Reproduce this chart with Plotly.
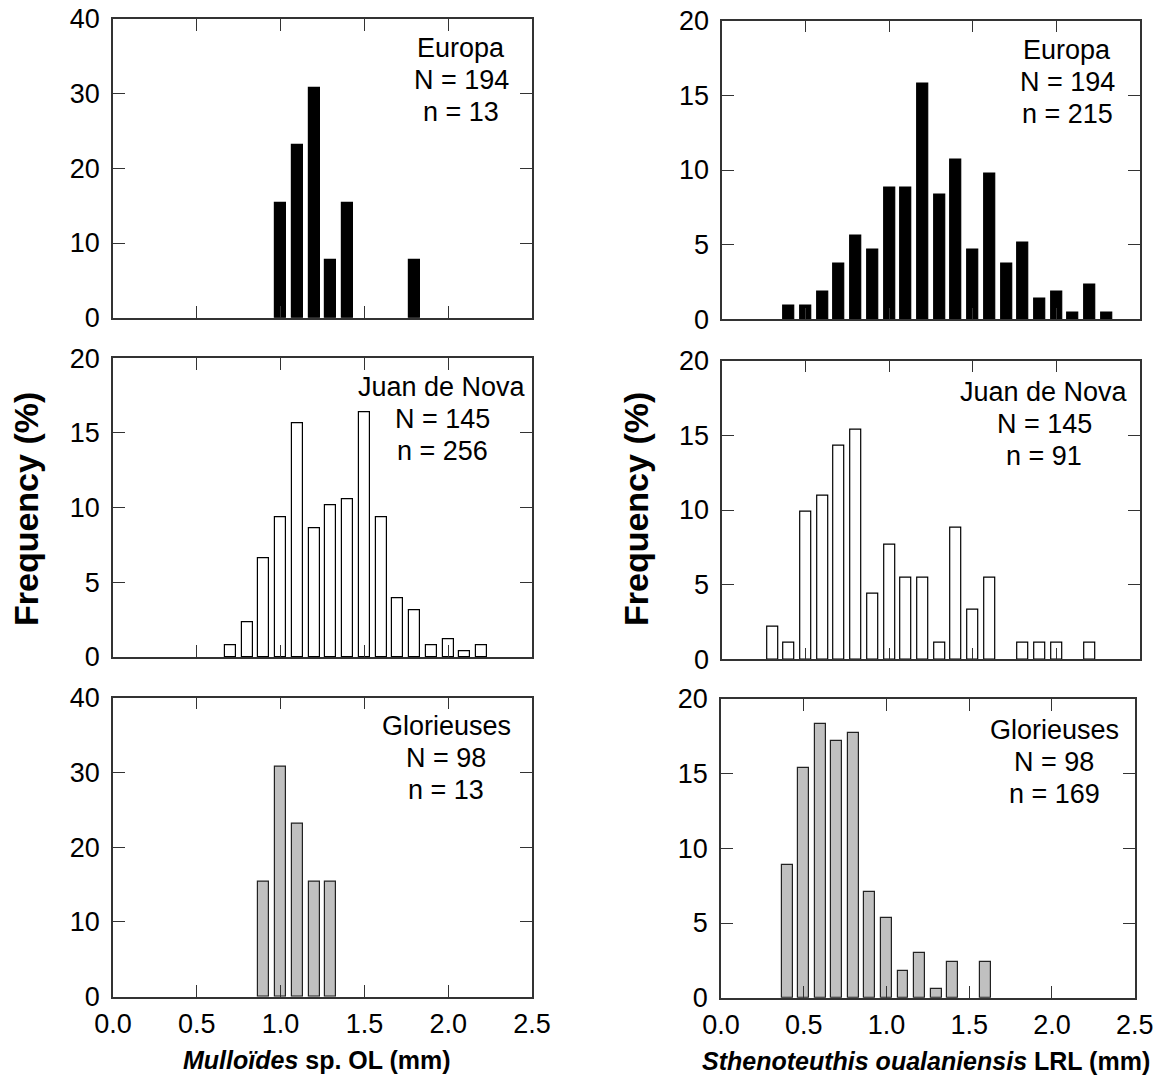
import plotly.graph_objects as go

# the page puts an 8 px margin round the figure; keep the whole page at 1168 x 1084
OFF = 8
W, H = 1168 - 2 * OFF, 1084 - 2 * OFF
FONT = "Liberation Sans, Arial, sans-serif"


def px_x(x):
    return (x - OFF) / W


def px_y(y):
    return 1 - (y - OFF) / H


# Mulloides sp. otolith length (mm), frequency (%)
mull_europa_x = [1.0, 1.1, 1.2, 1.3, 1.4, 1.8]
mull_europa_y = [15.38, 23.08, 30.77, 7.69, 15.38, 7.69]

mull_juan_x = [0.7, 0.8, 0.9, 1.0, 1.1, 1.2, 1.3, 1.4, 1.5, 1.6, 1.7, 1.8, 1.9, 2.0, 2.1, 2.2]
mull_juan_y = [0.78, 2.34, 6.64, 9.38, 15.63, 8.59, 10.16, 10.55, 16.41, 9.38, 3.91, 3.13, 0.78, 1.17, 0.39, 0.78]

mull_glor_x = [0.9, 1.0, 1.1, 1.2, 1.3]
mull_glor_y = [15.38, 30.77, 23.08, 15.38, 15.38]

# Sthenoteuthis oualaniensis lower rostral length (mm), frequency (%)
sthe_europa_x = [0.4, 0.5, 0.6, 0.7, 0.8, 0.9, 1.0, 1.1, 1.2, 1.3, 1.4, 1.5, 1.6, 1.7, 1.8, 1.9, 2.0, 2.1, 2.2, 2.3]
sthe_europa_y = [0.93, 0.93, 1.86, 3.72, 5.58, 4.65, 8.84, 8.84, 15.81, 8.37, 10.70, 4.65, 9.77, 3.72, 5.12, 1.40, 1.86, 0.47, 2.33, 0.47]

sthe_juan_x = [0.3, 0.4, 0.5, 0.6, 0.7, 0.8, 0.9, 1.0, 1.1, 1.2, 1.3, 1.4, 1.5, 1.6, 1.8, 1.9, 2.0, 2.2]
sthe_juan_y = [2.20, 1.10, 9.89, 10.99, 14.29, 15.38, 4.40, 7.69, 5.49, 5.49, 1.10, 8.79, 3.30, 5.49, 1.10, 1.10, 1.10, 1.10]

sthe_glor_x = [0.4, 0.5, 0.6, 0.7, 0.8, 0.9, 1.0, 1.1, 1.2, 1.3, 1.4, 1.6]
sthe_glor_y = [8.88, 15.38, 18.34, 17.16, 17.75, 7.10, 5.33, 1.78, 2.96, 0.59, 2.37, 2.37]

site_labels = [
    ["Europa", "N = 194", "n = 13"], ["Europa", "N = 194", "n = 215"],
    ["Juan de Nova", "N = 145", "n = 256"], ["Juan de Nova", "N = 145", "n = 91"],
    ["Glorieuses", "N = 98", "n = 13"], ["Glorieuses", "N = 98", "n = 169"],
]

# panel boxes in window pixels: x0, x1, y_top, y_bottom
panels = [
    (113, 532, 19, 317.7),
    (722.3, 1140, 20.7, 319.3),
    (113, 532, 358.3, 657),
    (722.3, 1140, 360.7, 659.3),
    (113, 532, 697.7, 996.7),
    (721, 1134.7, 699, 997.7),
]
# label centre x, y of first line
label_pos = [(461, 48), (1067, 50), (442, 387), (1044, 392), (446, 726), (1054, 730)]
ymax = [40, 20, 20, 20, 40, 20]
ydtick = [10, 5, 5, 5, 10, 5]

series = [
    (mull_europa_x, mull_europa_y, "black", "black"),
    (sthe_europa_x, sthe_europa_y, "black", "black"),
    (mull_juan_x, mull_juan_y, "white", "black"),
    (sthe_juan_x, sthe_juan_y, "white", "black"),
    (mull_glor_x, mull_glor_y, "#c0c0c0", "#222222"),
    (sthe_glor_x, sthe_glor_y, "#c0c0c0", "#222222"),
]

fig = go.Figure()
layout = {}
for i, ((xs, ys, fill, edge), (x0, x1, yt, yb)) in enumerate(zip(series, panels)):
    n = i + 1
    suffix = "" if n == 1 else str(n)
    fig.add_trace(go.Bar(
        x=xs, y=ys, width=0.066,
        marker=dict(color=fill, line=dict(color=edge, width=1.2)),
        xaxis="x" + suffix, yaxis="y" + suffix, showlegend=False,
    ))
    axis_common = dict(
        showline=True, linecolor="#333333", linewidth=1.5, mirror="ticks",
        ticks="inside", ticklen=12, tickwidth=1.3, tickcolor="#333333",
        showgrid=False, zeroline=False, automargin=False, ticklabeloverflow="allow",
        tickfont=dict(family=FONT, size=27, color="black"),
    )
    layout["xaxis" + suffix] = dict(
        axis_common, domain=[px_x(x0), px_x(x1)], range=[0, 2.5],
        tick0=0, dtick=0.5, tickformat=".1f", anchor="y" + suffix,
        showticklabels=(i >= 4), ticklabelstandoff=2,
    )
    layout["yaxis" + suffix] = dict(
        axis_common, domain=[px_y(yb), px_y(yt)], range=[0, ymax[i]],
        tick0=0, dtick=ydtick[i], anchor="x" + suffix, ticklabelstandoff=6,
    )

annotations = []
for lines, (ax, ay) in zip(site_labels, label_pos):
    for k, line in enumerate(lines):
        annotations.append(dict(
            text=line, x=px_x(ax), y=px_y(ay + 32 * k), xref="paper", yref="paper",
            xanchor="center", yanchor="middle", showarrow=False,
            font=dict(family=FONT, size=27, color="black"),
        ))

for tx in (26, 636):
    annotations.append(dict(
        text="<b>Frequency (%)</b>", x=px_x(tx), y=px_y(509), xref="paper", yref="paper",
        xanchor="center", yanchor="middle", showarrow=False, textangle=-90,
        font=dict(family=FONT, size=34, color="black"),
    ))

annotations.append(dict(
    text="<b><i>Mulloïdes</i> sp. OL (mm)</b>", x=px_x(317), y=px_y(1060),
    xref="paper", yref="paper", xanchor="center", yanchor="middle", showarrow=False,
    font=dict(family=FONT, size=25, color="black"),
))
annotations.append(dict(
    text="<b><i>Sthenoteuthis oualaniensis</i> LRL (mm)</b>", x=px_x(926), y=px_y(1061),
    xref="paper", yref="paper", xanchor="center", yanchor="middle", showarrow=False,
    font=dict(family=FONT, size=25, color="black"),
))

fig.update_layout(
    **layout,
    annotations=annotations,
    width=W, height=H,
    margin=dict(l=0, r=0, t=0, b=0),
    paper_bgcolor="white", plot_bgcolor="white",
    bargap=0, font=dict(family=FONT, color="black"),
)

fig.write_html("out.html")
